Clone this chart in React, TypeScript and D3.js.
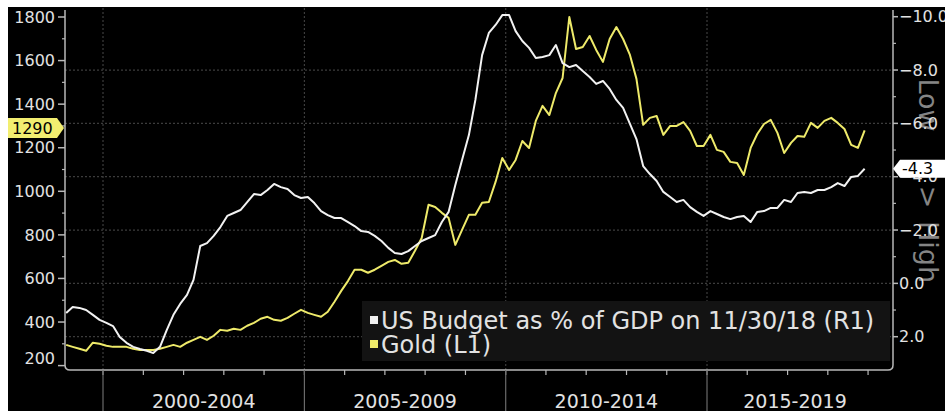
import React from 'react';
import * as d3 from 'd3';

// Bi-monthly observations starting Feb 1999
const START_DATE = new Date(1999, 1, 1);
const STEP_MONTHS = 2;

// US budget balance, % of GDP (right axis, inverted)
const budget = [
  1.11, 0.89, 0.92, 1.0, 1.18, 1.37, 1.48, 1.6, 2.01, 2.23,
  2.38, 2.46, 2.53, 2.61, 2.38, 1.75, 1.18, 0.77, 0.43, -0.13,
  -1.4, -1.51, -1.78, -2.11, -2.53, -2.64, -2.75, -3.05, -3.35, -3.31,
  -3.5, -3.73, -3.61, -3.54, -3.31, -3.2, -3.24, -3.01, -2.71, -2.56,
  -2.45, -2.45, -2.3, -2.15, -1.96, -1.93, -1.78, -1.59, -1.33, -1.14,
  -1.1, -1.21, -1.4, -1.59, -1.7, -1.81, -2.3, -2.68, -3.69, -4.63,
  -5.56, -6.88, -8.56, -9.39, -9.69, -10.06, -10.06, -9.46, -9.09, -8.83,
  -8.45, -8.49, -8.56, -8.94, -8.26, -8.11, -8.19, -7.96, -7.74, -7.48,
  -7.59, -7.29, -6.88, -6.58, -5.98, -5.41, -4.4, -4.1, -3.84, -3.43,
  -3.24, -3.05, -3.13, -2.86, -2.68, -2.53, -2.71, -2.6, -2.49, -2.41,
  -2.49, -2.53, -2.3, -2.68, -2.71, -2.83, -2.83, -3.13, -3.05, -3.39,
  -3.43, -3.39, -3.5, -3.5, -3.61, -3.76, -3.65, -3.99, -4.03, -4.3,
];

// Gold price, USD/oz (left axis)
const gold = [
  295, 286, 277, 268, 305, 300, 291, 286, 286, 286,
  277, 272, 272, 272, 277, 286, 295, 286, 305, 318,
  332, 318, 337, 364, 360, 369, 364, 383, 396, 415,
  424, 410, 406, 419, 438, 456, 442, 433, 424, 447,
  493, 543, 589, 640, 640, 626, 640, 658, 676, 685,
  667, 672, 727, 786, 938, 928, 901, 878, 754, 823,
  892, 892, 947, 951, 1043, 1153, 1098, 1144, 1231, 1199,
  1323, 1392, 1350, 1451, 1520, 1800, 1653, 1662, 1713, 1649,
  1594, 1699, 1754, 1699, 1626, 1516, 1305, 1337, 1346, 1259,
  1300, 1300, 1318, 1277, 1208, 1208, 1259, 1190, 1181, 1135,
  1130, 1075, 1199, 1263, 1309, 1328, 1268, 1176, 1222, 1254,
  1250, 1314, 1291, 1323, 1337, 1314, 1286, 1213, 1199, 1280,
];

const leftMajorTicks = [200, 400, 600, 800, 1000, 1200, 1400, 1600, 1800];
const leftMinorTicks = [300, 500, 700, 900, 1100, 1300, 1500, 1700];
const rightMajorTicks = [-10, -8, -6, -4, -2, 0, 2];
const rightMinorTicks = [-9, -7, -5, -3, -1, 1];
const gridTicks = [-8, -6, -4, -2, 0, 2];
const periodStartYears = [2000, 2005, 2010, 2015];
const periodLabels = ['2000-2004', '2005-2009', '2010-2014', '2015-2019'];
const yearTicks = d3.range(2000, 2020);
const legendLabels = ['US Budget as % of GDP on 11/30/18 (R1)', 'Gold (L1)'];
const lastGoldLabel = '1290';
const lastGoldValue = 1290;
const lastBudgetLabel = '-4.3';
const lastBudgetValue = -4.3;
const axisTitleParts = ['Low', '>', 'High'];

const FONT = 'DejaVu Sans, Verdana, sans-serif';

export default function App() {
  const W = 945;
  const H = 411;
  const left = 65;
  const right = 893;
  const top = 8;
  const bottom = 370;

  const x = d3.scaleTime().domain([new Date(2000, 0, 1), new Date(2015, 0, 1)]).range([103, 707]);
  const yL = d3.scaleLinear().domain([1800, 200]).range([17, 365.6]);
  const yR = d3.scaleLinear().domain([-10, 2]).range([16.7, 336.7]);

  const dates = budget.map((_, i) => d3.timeMonth.offset(START_DATE, i * STEP_MONTHS));

  const goldLine = d3.line<number>().x((_, i) => x(dates[i])).y((d) => yL(d));
  const budgetLine = d3.line<number>().x((_, i) => x(dates[i])).y((d) => yR(d));

  const gridColor = '#3c3c3c';
  const axisColor = '#b8b8b8';
  const textColor = '#e2e2e2';
  const yellow = '#eeea6a';

  const gy = yL(lastGoldValue);
  const by = yR(lastBudgetValue);

  return (
    <svg width={W} height={H} style={{ position: 'absolute', left: 0, top: 0 }} fontFamily={FONT}>
      <rect x={0} y={0} width={W} height={H} fill="#fff" />
      <rect x={8} y={7} width={W - 8} height={H - 7} fill="#000" />
      <defs>
        <clipPath id="plot">
          <rect x={left} y={top} width={right - left} height={bottom - top} />
        </clipPath>
      </defs>

      {/* horizontal grid */}
      {gridTicks.map((t) => (
        <line key={'hg' + t} x1={left} x2={right} y1={yR(t)} y2={yR(t)} stroke={gridColor} strokeWidth={1.2} strokeDasharray="2,2" />
      ))}
      {/* vertical grid */}
      {periodStartYears.map((yr) => (
        <line key={'vg' + yr} x1={x(new Date(yr, 0, 1))} x2={x(new Date(yr, 0, 1))} y1={top} y2={bottom} stroke={gridColor} strokeWidth={1.2} strokeDasharray="2,2" />
      ))}

      {/* right axis title */}
      <g fill="#858585" fontSize={27}>
        {axisTitleParts.map((p, i) => {
          const cy = [105, 197, 252][i];
          return (
            <text key={p} x={0} y={0} textAnchor="middle" dominantBaseline="central" transform={`translate(928,${cy}) rotate(90)`}>
              {p}
            </text>
          );
        })}
      </g>

      {/* lines */}
      <g clipPath="url(#plot)">
        <path d={goldLine(gold) || ''} fill="none" stroke={yellow} strokeWidth={2} strokeLinejoin="round" />
        <path d={budgetLine(budget) || ''} fill="none" stroke="#f2f2f2" strokeWidth={2} strokeLinejoin="round" />
      </g>

      {/* legend */}
      <rect x={362} y={301} width={528} height={60} fill="#131313" />
      <rect x={370} y={316} width={8} height={8} fill="#f0f0f0" />
      <rect x={370} y={340} width={8} height={8} fill={yellow} />
      <text x={381} y={329} fontSize={24} fill={textColor}>{legendLabels[0]}</text>
      <text x={381} y={353} fontSize={24} fill={textColor}>{legendLabels[1]}</text>

      {/* frame */}
      <path d={`M${left},10 V${bottom - 5} Q${left},${bottom} ${left + 5},${bottom} H${right - 5} Q${right},${bottom} ${right},${bottom - 5} V10`} fill="none" stroke={axisColor} strokeWidth={1.5} />

      {/* left axis */}
      {leftMajorTicks.map((t) => (
        <g key={'lt' + t}>
          <line x1={left - 7} x2={left} y1={yL(t)} y2={yL(t)} stroke={axisColor} strokeWidth={1.5} />
          <text x={left - 10} y={Math.min(yL(t), 358)} dy="0.36em" textAnchor="end" fontSize={16} fill={textColor}>{t}</text>
        </g>
      ))}
      {leftMinorTicks.map((t) => (
        <line key={'lm' + t} x1={left - 3} x2={left} y1={yL(t)} y2={yL(t)} stroke={axisColor} strokeWidth={1.2} />
      ))}

      {/* right axis */}
      {rightMajorTicks.map((t) => (
        <g key={'rt' + t}>
          <line x1={right} x2={right + 5} y1={yR(t)} y2={yR(t)} stroke={axisColor} strokeWidth={1.5} />
          <text x={right + 6} y={yR(t)} dy="0.36em" fontSize={16} fill={textColor}>{d3.format('.1f')(t)}</text>
        </g>
      ))}
      {rightMinorTicks.map((t) => (
        <line key={'rm' + t} x1={right} x2={right + 3} y1={yR(t)} y2={yR(t)} stroke={axisColor} strokeWidth={1.2} />
      ))}

      {/* bottom axis */}
      {yearTicks.map((yr) => (
        <line key={'yt' + yr} x1={x(new Date(yr, 0, 1))} x2={x(new Date(yr, 0, 1))} y1={bottom} y2={bottom + 5} stroke={axisColor} strokeWidth={1.2} />
      ))}
      {periodStartYears.map((yr, i) => {
        const x0 = x(new Date(yr, 0, 1));
        const x1 = Math.min(x(new Date(yr + 5, 0, 1)), right - 10);
        return (
          <g key={'p' + yr}>
            <line x1={x0} x2={x0} y1={bottom} y2={H} stroke="#6a6a6a" strokeWidth={1.2} />
            <text x={(x0 + x1) / 2} y={408} textAnchor="middle" fontSize={19} fill={textColor}>{periodLabels[i]}</text>
          </g>
        );
      })}

      {/* last value markers */}
      <polygon points={`8,${gy - 10} 57,${gy - 10} 64,${gy} 57,${gy + 10} 8,${gy + 10}`} fill="#f2ee70" />
      <text x={12} y={gy} dy="0.36em" fontSize={16} fill="#000">{lastGoldLabel}</text>
      <polygon points={`${right},${by} ${right + 7},${by - 9} ${W},${by - 9} ${W},${by + 9} ${right + 7},${by + 9}`} fill="#fff" />
      <text x={right + 9} y={by} dy="0.36em" fontSize={16} fill="#000">{lastBudgetLabel}</text>
    </svg>
  );
}
